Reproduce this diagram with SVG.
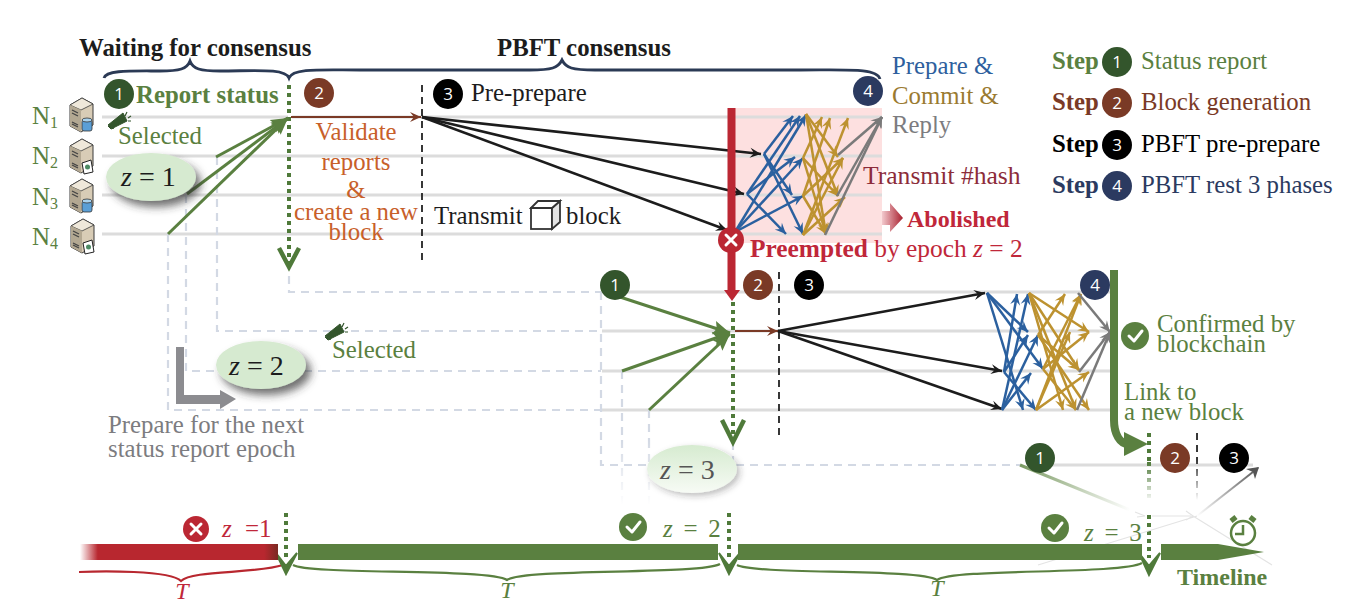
<svg xmlns="http://www.w3.org/2000/svg" xmlns:xlink="http://www.w3.org/1999/xlink" width="1353" height="610" viewBox="0 0 1353 610">
<style>
text{font-family:"Liberation Serif","Times New Roman",serif;font-size:24.800px}
.b{font-weight:bold}
.i{font-style:italic}
.num{font-family:"Open Sans","Noto Sans",sans-serif;font-size:17px;fill:#fff;text-anchor:middle}
.g{fill:#5a8040}.dk{fill:#1c1c1c}.or{fill:#c8602a}.rd{fill:#c0273a}.gy{fill:#7c7c80}.bl{fill:#2e5f9e}.au{fill:#9a7a30}.br{fill:#7a3a26}.nv{fill:#2b3a60}
.lane{stroke:#dcdcdc;stroke-width:3;fill:none}
.dash{stroke:#d3d9e4;stroke-width:2.200;stroke-dasharray:8 6;fill:none}
.dot{stroke:#4f7a3a;stroke-width:4;stroke-dasharray:4 4;fill:none}
.blk{stroke:#1c1c1c;stroke-width:2.600;fill:none;marker-end:url(#mK)}
.blu{stroke:#2b609f;stroke-width:2.500;fill:none;marker-end:url(#mB)}
.gld{stroke:#bd9230;stroke-width:2.500;fill:none;marker-end:url(#mG)}
.gry{stroke:#7a7a7a;stroke-width:2.500;fill:none;marker-end:url(#mY)}
.grn{stroke:#5a8040;stroke-width:3;fill:none;marker-end:url(#mN)}
.brn{stroke:#7a3a26;stroke-width:2.200;fill:none;marker-end:url(#mR)}
.chev{stroke:#4f7a3a;stroke-width:4.500;fill:none}
.vd{stroke:#222;stroke-width:1.800;stroke-dasharray:7 5;fill:none}
.brace{fill:none;stroke-width:2.200}
.ck{fill:none;stroke:#fff;stroke-width:3;stroke-linecap:round;stroke-linejoin:round}
.faint{fill:none;stroke:#e4e4e4;stroke-width:1.200}
</style>
<defs>
<marker id="mK" markerUnits="userSpaceOnUse" markerWidth="14" markerHeight="12" refX="12" refY="6" orient="auto"><path d="M1,1L12,6L1,11L5,6z" fill="#1c1c1c"/></marker>
<marker id="mB" markerUnits="userSpaceOnUse" markerWidth="14" markerHeight="12" refX="12" refY="6" orient="auto"><path d="M1,1L12,6L1,11L5,6z" fill="#2b609f"/></marker>
<marker id="mG" markerUnits="userSpaceOnUse" markerWidth="14" markerHeight="12" refX="12" refY="6" orient="auto"><path d="M1,1L12,6L1,11L5,6z" fill="#bd9230"/></marker>
<marker id="mY" markerUnits="userSpaceOnUse" markerWidth="14" markerHeight="12" refX="12" refY="6" orient="auto"><path d="M1,1L12,6L1,11L5,6z" fill="#7a7a7a"/></marker>
<marker id="mN" markerUnits="userSpaceOnUse" markerWidth="20" markerHeight="16" refX="18" refY="8" orient="auto"><path d="M1,1L18,8L1,15L4,8z" fill="#5a8040"/></marker>
<marker id="mR" markerUnits="userSpaceOnUse" markerWidth="14" markerHeight="12" refX="12" refY="6" orient="auto"><path d="M1,1L12,6L1,11L5,6z" fill="#7a3a26"/></marker>
<filter id="sh" x="-30%" y="-30%" width="170%" height="180%"><feDropShadow dx="5" dy="6" stdDeviation="4" flood-color="#333" flood-opacity=".7"/></filter>
<filter id="sh2" x="-30%" y="-30%" width="170%" height="180%"><feDropShadow dx="3" dy="3" stdDeviation="3" flood-color="#333" flood-opacity=".3"/></filter>
<linearGradient id="gRedFade" x1="0" x2="1" y1="0" y2="0"><stop offset="0" stop-color="#b8272f" stop-opacity="0"/><stop offset=".09" stop-color="#b8272f"/><stop offset=".93" stop-color="#b8272f"/><stop offset="1" stop-color="#7a2a22"/></linearGradient>
<linearGradient id="gAbol" x1="0" x2="1" y1="0" y2="0"><stop offset="0" stop-color="#f3c9cd"/><stop offset="1" stop-color="#a81f2e"/></linearGradient>
<linearGradient id="gZ3" x1="0" x2="0" y1="0" y2="1"><stop offset="0" stop-color="#d6ebd0"/><stop offset="1" stop-color="#f7fbf5"/></linearGradient>
<linearGradient id="gFadeV" gradientUnits="userSpaceOnUse" x1="0" x2="0" y1="440" y2="505"><stop offset="0" stop-color="#d3d9e4"/><stop offset="1" stop-color="#d3d9e4" stop-opacity="0"/></linearGradient>
<linearGradient id="gGrnFade" gradientUnits="userSpaceOnUse" x1="1020" y1="465" x2="1130" y2="510"><stop offset="0" stop-color="#7a9a62"/><stop offset="1" stop-color="#7a9a62" stop-opacity="0"/></linearGradient>
<linearGradient id="gGryFade" gradientUnits="userSpaceOnUse" x1="1197" y1="516" x2="1258" y2="468"><stop offset="0" stop-color="#555" stop-opacity="0"/><stop offset="1" stop-color="#555"/></linearGradient>
<linearGradient id="gDotFade" gradientUnits="userSpaceOnUse" x1="0" x2="0" y1="462" y2="500"><stop offset="0" stop-color="#4f7a3a"/><stop offset="1" stop-color="#4f7a3a" stop-opacity=".05"/></linearGradient>
<linearGradient id="gVdFade" gradientUnits="userSpaceOnUse" x1="0" x2="0" y1="460" y2="500"><stop offset="0" stop-color="#222"/><stop offset="1" stop-color="#222" stop-opacity="0"/></linearGradient>
<g id="srvBody">
<path d="M1,7L13,0L24,6L24,27L12,34L1,28z" fill="#d8ccb6" stroke="#3a3a3a" stroke-width="1"/>
<path d="M1,7L13,0L24,6L12,12z" fill="#efe8da" stroke="#3a3a3a" stroke-width=".8"/>
<path d="M1,7L12,12L12,34L1,28z" fill="#b3a892"/>
<path d="M3,12L9,15M3,15L9,18M3,24L9,27M3,26L9,29" stroke="#444" stroke-width="1.300"/>
</g>
<g id="srvDb"><use xlink:href="#srvBody"/><rect x="13" y="22" width="10" height="11" rx="2" fill="#5b9fd6" stroke="#333" stroke-width=".8"/><ellipse cx="18" cy="22" rx="5" ry="2" fill="#a9d2ee" stroke="#333" stroke-width=".8"/></g>
<g id="srvDoc"><use xlink:href="#srvBody"/><path d="M13,24L22,21L24,33L15,35z" fill="#fff" stroke="#222" stroke-width="1"/><circle cx="18.500" cy="28" r="2.500" fill="#4c8a63"/></g>
<g id="horn" fill="#33552c" stroke="#33552c"><path d="M-15,5L0,-7L4,1L-10,8z M-15,6L-12,9L-9,8z" stroke-width="1"/><path d="M4,-8L2,-4M8,-4L5,-2M8,1L5,1" fill="none" stroke-width="1.200"/></g>
</defs>

<rect id="pink" x="735" y="108" width="147" height="135" fill="#fde0e0"/>

<g id="lanes">
<path class="lane" d="M102,117H288M292,117H882M102,156H882M102,195H882M102,234H882"/>
<path class="lane" d="M615,292H1110M602,331H1110M602,371H1110M602,410H1110"/>
<path class="lane" d="M1040,465H1253"/>
</g>

<g id="connectors">
<path class="dash" d="M289,262V292H601M217,157V331H601M186,195V371H601M168,234V410H601M601,292V465H1020M622,371V440M649,410V440M733,442V465"/>
<path style="stroke:url(#gFadeV);stroke-width:2.200;stroke-dasharray:8 6;fill:none" d="M622.010,440V505M649.010,440V505"/>

<path class="brace" style="stroke-width:2.800" stroke="#2b3a55" d="M104,78C106,70 130,71 160,71C180,71 187,69 190,61C193,69 200,71 220,71C255,71 285,68 289,78C293,68 320,70 360,70L530,70C552,70 558,68 562,60C566,68 572,70 595,70L800,70C850,70 877,68 880,79"/>
<path class="brace" stroke="#b8272f" d="M79,572C100,571 170,570 181,581C192,570 255,574 283,565"/>
<path class="brace" stroke="#5a8040" d="M293,565C310,575 490,568 507,580C524,568 700,575 720,564"/>
<path class="brace" stroke="#5a8040" d="M737,565C755,575 920,568 937,580C954,568 1120,575 1142,563"/>

<path class="dot" d="M289,85V262M733,302V440M286,513V558M729,513V558M1149,433V462M1149,515V558"/>
<path style="stroke:url(#gDotFade);stroke-width:4;stroke-dasharray:4 4;fill:none" d="M1149.010,462V500"/>
<path class="chev" d="M279,248L289,267L299,248M722,420L733,442L744,420"/>
<path d="M276,553L286,574L297,553L286,566z M719,553L729,574L740,553L729,566z M1139,553L1149,575L1160,553L1149,566z" fill="#4f7a3a" stroke="#4f7a3a" stroke-width="2"/>

<line class="grn" x1="168" y1="234" x2="288" y2="118"/>
<line class="grn" x1="187" y1="194" x2="288" y2="118"/>
<line class="grn" x1="216" y1="157" x2="288" y2="118"/>
<line class="brn" x1="291" y1="117" x2="421" y2="117"/>
<path class="vd" d="M422,85V260M779,272V435"/>
<path style="stroke:url(#gVdFade);stroke-width:1.800;stroke-dasharray:7 5;fill:none" d="M1197.010,433V500"/>

<line class="blk" x1="422" y1="117" x2="761" y2="154"/>
<line class="blk" x1="422" y1="117" x2="744" y2="194"/>
<line class="blk" x1="422" y1="117" x2="727" y2="230"/>

<g>
<line class="blu" x1="764" y1="154" x2="793" y2="116"/><line class="blu" x1="764" y1="154" x2="792" y2="195"/><line class="blu" x1="764" y1="154" x2="803" y2="234"/>
<line class="blu" x1="747" y1="194" x2="800" y2="116"/><line class="blu" x1="747" y1="194" x2="795" y2="157"/><line class="blu" x1="747" y1="194" x2="786" y2="234"/>
<line class="blu" x1="735" y1="232" x2="806" y2="115"/><line class="blu" x1="735" y1="232" x2="803" y2="158"/><line class="blu" x1="735" y1="232" x2="803" y2="196"/>
<line class="gld" x1="806" y1="114" x2="838" y2="157"/><line class="gld" x1="806" y1="114" x2="838" y2="196"/><line class="gld" x1="806" y1="114" x2="826" y2="234"/>
<line class="gld" x1="803" y1="158" x2="822" y2="117"/><line class="gld" x1="803" y1="158" x2="838" y2="196"/><line class="gld" x1="803" y1="158" x2="826" y2="234"/>
<line class="gld" x1="803" y1="196" x2="830" y2="118"/><line class="gld" x1="803" y1="196" x2="843" y2="158"/><line class="gld" x1="803" y1="196" x2="826" y2="234"/>
<line class="gld" x1="803" y1="235" x2="848" y2="118"/><line class="gld" x1="803" y1="235" x2="843" y2="158"/><line class="gld" x1="803" y1="235" x2="845" y2="197"/>
<line class="gry" x1="838" y1="155" x2="882" y2="117"/><line class="gry" x1="837" y1="196" x2="882" y2="117"/><line class="gry" x1="825" y1="235" x2="882" y2="117"/>
</g>

<line class="grn" x1="620" y1="297" x2="730" y2="333"/>
<line class="grn" x1="622" y1="371" x2="730" y2="333"/>
<line class="grn" x1="649" y1="410" x2="730" y2="334"/>
<line class="brn" x1="735" y1="331" x2="778" y2="331"/>
<line class="blk" x1="778" y1="331" x2="985" y2="293"/>
<line class="blk" x1="778" y1="331" x2="1002" y2="371"/>
<line class="blk" x1="778" y1="331" x2="1002" y2="409"/>

<g>
<line class="blu" x1="987" y1="293" x2="1028" y2="332"/><line class="blu" x1="987" y1="293" x2="1043" y2="369"/><line class="blu" x1="987" y1="293" x2="1023" y2="410"/>
<line class="blu" x1="1004" y1="372" x2="1017" y2="294"/><line class="blu" x1="1004" y1="372" x2="1028" y2="335"/><line class="blu" x1="1004" y1="372" x2="1036" y2="410"/>
<line class="blu" x1="1002" y1="410" x2="1028" y2="294"/><line class="blu" x1="1002" y1="410" x2="1038" y2="335"/><line class="blu" x1="1002" y1="410" x2="1031" y2="373"/>
<line class="gld" x1="1029" y1="293" x2="1089" y2="332"/><line class="gld" x1="1029" y1="293" x2="1079" y2="370"/><line class="gld" x1="1029" y1="293" x2="1063" y2="410"/><line class="gld" x1="1029" y1="293" x2="1076" y2="410"/>
<line class="gld" x1="1038" y1="335" x2="1065" y2="294"/><line class="gld" x1="1038" y1="335" x2="1079" y2="370"/><line class="gld" x1="1038" y1="335" x2="1089" y2="410"/>
<line class="gld" x1="1043" y1="369" x2="1081" y2="294"/><line class="gld" x1="1043" y1="369" x2="1089" y2="332"/><line class="gld" x1="1043" y1="369" x2="1076" y2="410"/>
<line class="gld" x1="1036" y1="410" x2="1081" y2="294"/><line class="gld" x1="1036" y1="410" x2="1070" y2="332"/><line class="gld" x1="1036" y1="410" x2="1089" y2="372"/>
<line class="gry" x1="1078" y1="293" x2="1110" y2="332"/><line class="gry" x1="1079" y1="372" x2="1110" y2="332"/><line class="gry" x1="1077" y1="410" x2="1110" y2="332"/>
</g>

<path d="M1020,465L1135,512" style="stroke:url(#gGrnFade);stroke-width:3;fill:none"/>
<path class="faint" d="M1135,512L1145,516L1137,517M1152,516H1191M1186,511L1193,516L1186,520M1193,516L1272,565M1197,516L1038,565"/>
<path d="M1197,516L1258,468" style="stroke:url(#gGryFade);stroke-width:2;fill:none"/>
<path d="M1246,469L1259,467L1255,479L1253,472z" fill="#555"/>

<path d="M731.500,108V290" stroke="#bb2733" stroke-width="8" fill="none"/>
<path d="M724,290H740L732,301z" fill="#bb2733"/>
<path d="M1114,270V420C1114,434 1120,444 1128,444" stroke="#5a8040" stroke-width="8" fill="none"/>
<path d="M1124,432L1148,444L1124,456z" fill="#5a8040"/>
<path d="M176,347H184V395H220V390L236,399L220,409V404H176z" fill="#8c8c90"/>
<path d="M882,211H890V203L903,218L890,232V225H882z" fill="url(#gAbol)"/>
</g>

<g id="timeline">
<rect x="80" y="544" width="198" height="16" fill="url(#gRedFade)"/>
<rect x="298" y="544" width="420" height="16" fill="#5a8040"/>
<rect x="738" y="544" width="404" height="16" fill="#5a8040"/>
<path d="M1161,544H1218L1264,552L1218,560H1161z" fill="#5a8040"/>
<g id="clock" fill="none" stroke="#5a8040" stroke-width="2.500"><circle cx="1243" cy="533" r="12"/><path d="M1243,525V534H1235"/><path d="M1231,521L1236,517M1255,521L1250,517" stroke-width="5"/></g>
</g>

<g id="n1"><text class="g" x="32" y="124" style="font-size:25px">N</text><text class="g" x="50" y="128" style="font-size:16px">1</text><use xlink:href="#srvDb" x="69" y="98"/></g>
<g id="n2"><text class="g" x="32" y="164" style="font-size:25px">N</text><text class="g" x="50" y="168" style="font-size:16px">2</text><use xlink:href="#srvDoc" x="69" y="139"/></g>
<g id="n3"><text class="g" x="32" y="205" style="font-size:25px">N</text><text class="g" x="50" y="209" style="font-size:16px">3</text><use xlink:href="#srvDb" x="69" y="179"/></g>
<g id="n4"><text class="g" x="32" y="245" style="font-size:25px">N</text><text class="g" x="50" y="249" style="font-size:16px">4</text><use xlink:href="#srvDoc" x="70" y="219"/></g>

<g id="labels-top">
<text class="b dk" x="79" y="56">Waiting for consensus</text>
<text class="b dk" x="497" y="56">PBFT consensus</text>
<text class="b g" x="136" y="103">Report status</text>
<text class="dk" x="471" y="101">Pre-prepare</text>
<text class="bl" x="892" y="74">Prepare &amp;</text>
<text class="au" x="892" y="104">Commit &amp;</text>
<text class="gy" x="892" y="133">Reply</text>
<text class="g" x="118" y="144">Selected</text>
<text class="g" x="332" y="358">Selected</text>
<use xlink:href="#horn" x="123" y="120"/>
<use xlink:href="#horn" x="340" y="331"/>
<text class="or" x="356" y="140" text-anchor="middle">Validate</text>
<text class="or" x="356" y="170" text-anchor="middle">reports</text>
<text class="or" x="356" y="198" text-anchor="middle">&amp;</text>
<text class="or" x="356" y="220" text-anchor="middle">create a new</text>
<text class="or" x="356" y="240" text-anchor="middle">block</text>
<text class="dk" x="434" y="224">Transmit</text>
<g id="cube" fill="#fff" stroke="#333" stroke-width="1.800"><rect x="531" y="208" width="21" height="21"/><path d="M552,208L560,201V222L552,229z" fill="#e4e4e4"/><path d="M531,208L538,201H560L552,208z"/></g>
<text class="dk" x="566" y="224">block</text>
<text x="863" y="184" fill="#8c2c3a" style="font-size:25.600px">Transmit #hash</text>
<text class="b rd" x="907" y="227" style="font-size:24px">Abolished</text>
<text class="rd" x="750" y="257" style="font-size:25.400px"><tspan class="b">Preempted</tspan> by epoch <tspan class="i">z</tspan> = 2</text>
<text class="g" x="1157" y="332">Confirmed by</text>
<text class="g" x="1157" y="352">blockchain</text>
<text class="g" x="1124" y="400">Link to</text>
<text class="g" x="1124" y="420">a new block</text>
<text class="gy" x="108" y="433">Prepare for the next</text>
<text class="gy" x="108" y="457">status report epoch</text>
<text class="b g" x="1177" y="585" style="font-size:24px">Timeline</text>
</g>

<g id="bubble-z1"><ellipse style="filter:url(#sh)" cx="151" cy="177" rx="45" ry="24" fill="#d6ead0"/><text class="dk" x="121" y="186" style="font-size:28px"><tspan class="i">z</tspan> = 1</text></g>
<g id="bubble-z2"><ellipse style="filter:url(#sh)" cx="261" cy="365" rx="45" ry="24" fill="#d6ead0"/><text class="dk" x="229" y="375" style="font-size:28px"><tspan class="i">z</tspan> = 2</text></g>
<g id="bubble-z3"><ellipse style="filter:url(#sh2)" cx="692" cy="469" rx="45" ry="24" fill="url(#gZ3)"/><text x="660" y="479" fill="#555" style="font-size:28px"><tspan class="i">z</tspan> = 3</text></g>

<g id="tl-labels">
<text class="rd" x="222" y="537" style="font-size:25px;word-spacing:7px"><tspan class="i">z</tspan> =1</text>
<text class="g" x="663" y="537" style="font-size:25px;word-spacing:4.500px"><tspan class="i">z</tspan> = 2</text>
<text class="g" x="1084" y="541" style="font-size:25px;word-spacing:4.500px"><tspan class="i">z</tspan> = 3</text>
<text class="rd i" x="182" y="599" text-anchor="middle" style="font-size:24px">T</text>
<text class="g i" x="507" y="598" text-anchor="middle" style="font-size:24px">T</text>
<text class="g i" x="937" y="596" text-anchor="middle" style="font-size:24px">T</text>
</g>

<g id="marks">
<g id="xA"><circle cx="731" cy="240" r="13" fill="#bb2733"/><path class="ck" d="M726,235L736,245M736,235L726,245"/></g>
<g id="xB"><circle cx="196" cy="529" r="13" fill="#bb2733"/><path class="ck" d="M191,524L201,534M201,524L191,534"/></g>
<g id="okA"><circle cx="1135" cy="336" r="14" fill="#5a8040"/><path class="ck" d="M1129,336L1134,341L1142,331"/></g>
<g id="okB"><circle cx="633" cy="527" r="14" fill="#5a8040"/><path class="ck" d="M627,527L632,532L640,522"/></g>
<g id="okC"><circle cx="1055" cy="528" r="14" fill="#5a8040"/><path class="ck" d="M1049,528L1054,533L1062,523"/></g>
</g>

<g id="steps">
<g><circle cx="119" cy="94" r="15" fill="#33552c"/><text class="num" x="119" y="100">1</text></g>
<g><circle cx="319" cy="93" r="15" fill="#7a3a26"/><text class="num" x="319" y="99">2</text></g>
<g><circle cx="448" cy="94" r="15" fill="#000"/><text class="num" x="448" y="100">3</text></g>
<g><circle cx="868" cy="91" r="15" fill="#2b3a60"/><text class="num" x="868" y="97">4</text></g>
<g><circle cx="615" cy="285" r="15" fill="#33552c"/><text class="num" x="615" y="291">1</text></g>
<g><circle cx="758" cy="285" r="15" fill="#7a3a26"/><text class="num" x="758" y="291">2</text></g>
<g><circle cx="809" cy="285" r="15" fill="#000"/><text class="num" x="809" y="291">3</text></g>
<g><circle cx="1095" cy="285" r="15" fill="#2b3a60"/><text class="num" x="1095" y="291">4</text></g>
<g><circle cx="1040" cy="458" r="15" fill="#33552c"/><text class="num" x="1040" y="464">1</text></g>
<g><circle cx="1175" cy="458" r="15" fill="#7a3a26"/><text class="num" x="1175" y="464">2</text></g>
<g><circle cx="1234" cy="458" r="15" fill="#000"/><text class="num" x="1234" y="464">3</text></g>
</g>

<g id="legend">
<text class="b g" x="1052" y="69">Step</text><circle cx="1117" cy="62" r="15" fill="#33552c"/><text class="num" x="1117" y="68">1</text><text class="g" x="1141" y="69">Status report</text>
<text class="b br" x="1052" y="110">Step</text><circle cx="1117" cy="103" r="15" fill="#7a3a26"/><text class="num" x="1117" y="109">2</text><text class="br" x="1141" y="110">Block generation</text>
<text class="b" x="1052" y="152" fill="#000">Step</text><circle cx="1117" cy="145" r="15" fill="#000"/><text class="num" x="1117" y="151">3</text><text x="1141" y="152" fill="#000">PBFT pre-prepare</text>
<text class="b nv" x="1052" y="193">Step</text><circle cx="1117" cy="186" r="15" fill="#2b3a60"/><text class="num" x="1117" y="192">4</text><text class="nv" x="1141" y="193">PBFT rest 3 phases</text>
</g>
</svg>
